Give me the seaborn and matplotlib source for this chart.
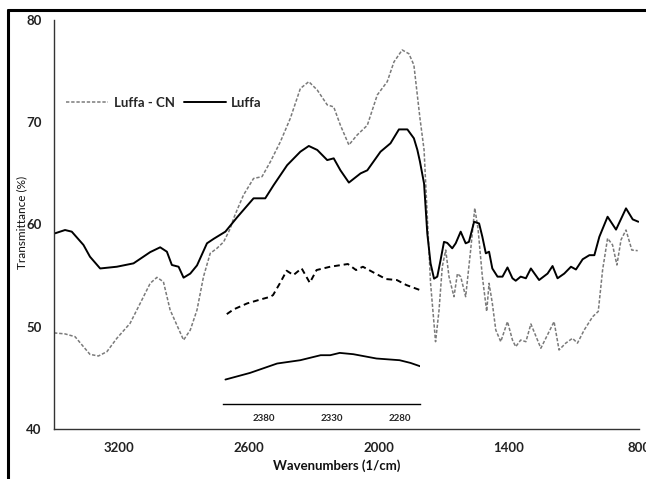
import matplotlib
matplotlib.use("Agg")
import matplotlib.pyplot as plt
from matplotlib.lines import Line2D
import seaborn as sns
import pandas as pd

# ---- data ----
luffa_wn = [3500, 3495, 3449, 3418, 3364, 3334, 3287, 3210, 3133, 3056, 3010, 2979, 2956,
            2925, 2902, 2871, 2840, 2794, 2763, 2709, 2655, 2579, 2525, 2486, 2424, 2363,
            2324, 2285, 2239, 2209, 2178, 2139, 2085, 2054, 1993, 1947, 1908, 1869, 1839,
            1823, 1811, 1792, 1777, 1762, 1746, 1731, 1716, 1700, 1685, 1662, 1646, 1623,
            1600, 1585, 1561, 1538, 1523, 1507, 1492, 1477, 1453, 1430, 1407, 1384, 1369,
            1346, 1322, 1299, 1261, 1222, 1199, 1176, 1145, 1114, 1091, 1060, 1029, 1006,
            983, 945, 906, 860, 829, 803]
luffa_t = [59.2, 59.14, 59.46, 59.3, 58.0, 56.85, 55.7, 55.87, 56.2, 57.3, 57.77, 57.34, 56.04,
           55.87, 54.8, 55.2, 56.0, 58.16, 58.6, 59.3, 60.7, 62.56, 62.56, 63.86, 65.8, 67.12,
           67.68, 67.29, 66.3, 66.47, 65.3, 64.1, 65.0, 65.3, 67.12, 67.94, 69.3, 69.3, 68.43,
           67.3, 66.15, 64.0, 59.1, 56.2, 54.7, 54.9, 56.5, 58.3, 58.2, 57.67, 58.16, 59.3,
           58.16, 58.3, 60.27, 60.1, 58.8, 57.18, 57.34, 55.7, 54.9, 54.9, 55.8, 54.74, 54.5,
           54.9, 54.74, 55.7, 54.57, 55.2, 55.94, 54.74, 55.2, 55.87, 55.6, 56.6, 57.0, 57.0,
           58.8, 60.76, 59.5, 61.58, 60.5, 60.27]

cn_wn = [3500, 3449, 3403, 3364, 3334, 3295, 3256, 3210, 3149, 3102, 3056, 3025, 2995, 2964,
         2933, 2902, 2871, 2840, 2810, 2779, 2748, 2717, 2686, 2671, 2655, 2625, 2579, 2540,
         2501, 2455, 2409, 2363, 2324, 2285, 2239, 2209, 2178, 2139, 2101, 2054, 2008, 1962,
         1931, 1893, 1862, 1839, 1811, 1792, 1777, 1762, 1739, 1723, 1708, 1692, 1677, 1654,
         1638, 1623, 1600, 1577, 1558, 1543, 1523, 1503, 1492, 1477, 1461, 1438, 1407, 1384,
         1369, 1346, 1322, 1299, 1253, 1192, 1169, 1138, 1107, 1084, 1053, 1014, 988, 968,
         945, 922, 902, 883, 860, 833, 806]
cn_t = [49.4, 49.3, 49.03, 48.05, 47.3, 47.14, 47.56, 48.87, 50.33, 52.3, 54.25, 54.83, 54.4, 51.64,
        50.17, 48.7, 49.68, 51.64, 54.9, 57.18, 57.67, 58.3, 59.63, 60.6, 61.42, 62.9, 64.5, 64.68,
        66.15, 68.1, 70.4, 73.3, 73.97, 73.15, 71.7, 71.5, 69.7, 67.78, 68.75, 69.7, 72.67, 73.97,
        75.9, 77.07, 76.7, 75.6, 70.4, 67.3, 60.76, 54.25, 48.54, 51.6, 55.87, 57.5, 54.9, 52.94,
        55.2, 54.9, 52.94, 57.5, 61.6, 59.6, 54.9, 51.5, 54.25, 52.3, 49.68, 48.54, 50.5, 48.7,
        48.05, 48.7, 48.54, 50.27, 47.9, 50.5, 47.73, 48.4, 48.87, 48.4, 49.68, 50.98, 51.5, 55.55,
        58.65, 58.0, 56.04, 58.5, 59.46, 57.5, 57.44]

# inset (2410-2265 cm-1, arbitrary vertical scale)
inset_cn_wn = [2407, 2402, 2392, 2382, 2375, 2373, 2368, 2363, 2358, 2352, 2346, 2341, 2331,
               2318, 2312, 2307, 2298, 2290, 2282, 2275, 2265]
inset_cn_v = [9.0, 9.47, 10.07, 10.47, 10.73, 10.9, 12.07, 13.33, 12.9, 13.57, 12.13, 13.4, 13.73,
              14.0, 13.4, 13.73, 13.07, 12.5, 12.4, 11.9, 11.4]
inset_l_wn = [2408, 2390, 2370, 2353, 2338, 2331, 2324, 2314, 2297, 2280, 2272, 2265]
inset_l_v = [2.47, 3.13, 4.07, 4.4, 4.9, 4.9, 5.13, 5.0, 4.57, 4.4, 4.13, 3.8]

x_ticks = [3200, 2600, 2000, 1400, 800]
y_ticks = [40, 50, 60, 70, 80]
inset_ticks = [2380, 2330, 2280]

# ---- figure ----
sns.set_theme(style="white")
plt.rcParams['font.family'] = ['Lato', 'DejaVu Sans']

W, H = 646, 479
fig = plt.figure(figsize=(W / 100, H / 100), dpi=100)
fig.patch.set_facecolor("white")

def fx(px):
    return px / W

def fy(py):
    return 1 - py / H

ax = fig.add_axes([fx(54), fy(429), fx(639) - fx(54), fy(20) - fy(429)])
ax.set_facecolor("white")

df_l = pd.DataFrame({"wn": luffa_wn, "t": luffa_t})
df_c = pd.DataFrame({"wn": cn_wn, "t": cn_t})

sns.lineplot(data=df_c, x="wn", y="t", ax=ax, color="#7a7a7a", lw=1.1,
             linestyle=(0, (2.2, 1.2)), estimator=None, sort=False)
sns.lineplot(data=df_l, x="wn", y="t", ax=ax, color="black", lw=1.4,
             estimator=None, sort=False)

ax.set_xlim(3500, 800)
ax.set_ylim(40, 80)
ax.set_xticks(x_ticks)
ax.set_yticks(y_ticks)
ax.tick_params(axis="both", which="major", direction="out", length=5, width=1,
               color="#333333", labelsize=9.5, pad=4)
for lab in ax.get_xticklabels() + ax.get_yticklabels():
    lab.set_fontweight("bold")
    lab.set_color("#222222")
for s in ["top", "right"]:
    ax.spines[s].set_visible(False)
for s in ["left", "bottom"]:
    ax.spines[s].set_color("#333333")
    ax.spines[s].set_linewidth(1.0)
ax.set_xlabel("Wavenumbers (1/cm)", fontsize=9.5, fontweight="bold", color="#111111")
ax.set_ylabel("Transmittance (%)", fontsize=8.5, color="#111111")
ax.xaxis.set_label_coords(fx(337), fy(466), transform=fig.transFigure)
ax.yaxis.set_label_coords(fx(22), fy(222), transform=fig.transFigure)
ax.xaxis.label.set_verticalalignment("center")
ax.yaxis.label.set_verticalalignment("center")

handles = [Line2D([], [], color="#7a7a7a", lw=1.1, linestyle=(0, (2.2, 1.2))),
           Line2D([], [], color="black", lw=1.4)]
leg = fig.legend(handles, ["Luffa - CN", "Luffa"], loc="center left",
                 bbox_to_anchor=(fx(66), fy(103)), ncol=2, frameon=False,
                 prop={"size": 9.5, "weight": "bold"}, handlelength=3.2,
                 handletextpad=0.4, columnspacing=0.7, borderpad=0, borderaxespad=0)

# ---- inset ----
ins = fig.add_axes([fx(222.7), fy(404.3), fx(420) - fx(222.7), fy(254) - fy(404.3)])
ins.patch.set_alpha(0)
df_ic = pd.DataFrame({"wn": inset_cn_wn, "v": inset_cn_v})
df_il = pd.DataFrame({"wn": inset_l_wn, "v": inset_l_v})
sns.lineplot(data=df_ic, x="wn", y="v", ax=ins, color="black", lw=1.4,
             linestyle=(0, (3, 2)), estimator=None, sort=False)
sns.lineplot(data=df_il, x="wn", y="v", ax=ins, color="black", lw=1.3,
             estimator=None, sort=False)
ins.set_xlim(2410, 2265)
ins.set_ylim(0, 15)
ins.set_xticks(inset_ticks)
ins.set_yticks([])
ins.set_xlabel("")
ins.set_ylabel("")
for s in ["top", "right", "left"]:
    ins.spines[s].set_visible(False)
ins.spines["bottom"].set_color("black")
ins.spines["bottom"].set_linewidth(1.0)
ins.tick_params(axis="x", direction="out", length=4, width=1, color="black",
                labelsize=7, pad=3)
for lab in ins.get_xticklabels():
    lab.set_fontweight("bold")

# ---- outer chart-area border (top and left, as in the cropped reference) ----
fig.add_artist(Line2D([fx(8), 1], [fy(10), fy(10)], color="black", lw=2.2,
                      transform=fig.transFigure))
fig.add_artist(Line2D([fx(8), fx(8)], [0, fy(10)], color="black", lw=2.2,
                      transform=fig.transFigure))

fig.savefig("out.png", dpi=100, facecolor="white")
